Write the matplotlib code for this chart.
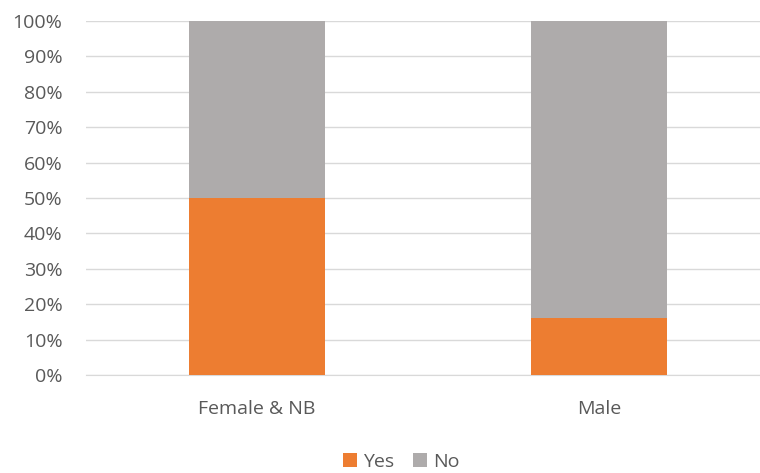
import matplotlib
matplotlib.use("Agg")
import matplotlib.pyplot as plt
import numpy as np

categories = ["Female & NB", "Male"]
yes_pct = [50, 16]
no_pct = [50, 84]
y_ticks = list(range(0, 101, 10))

plt.rcParams['font.family'] = ['Open Sans', 'DejaVu Sans']

fig = plt.figure(figsize=(7.6, 4.73), dpi=100)
# plot area runs slightly past the right edge of the canvas
ax = fig.add_axes([86/760, 1 - 375/473, 684/760, 354/473])

x = np.arange(len(categories))
w = 0.4
ax.bar(x, yes_pct, width=w, color="#ED7D31", label="Yes", zorder=3)
ax.bar(x, no_pct, bottom=yes_pct, width=w, color="#AEABAB", label="No", zorder=3)

ax.set_xlim(-0.5, 1.5)
ax.set_ylim(0, 100)
ax.set_yticks(y_ticks)
ax.set_yticklabels([f"{t}%" for t in y_ticks])
ax.set_xticks(x)
ax.set_xticklabels(categories)
ax.grid(axis="y", color="#D9D9D9", linewidth=1, zorder=0)
for s in ["top", "right", "left"]:
    ax.spines[s].set_visible(False)
ax.spines["bottom"].set_color("#D9D9D9")
ax.tick_params(axis="both", length=0, labelsize=14, colors="#595959")
ax.tick_params(axis="y", pad=17)
ax.tick_params(axis="x", pad=18)

fig.legend(loc="lower center", bbox_to_anchor=(0.528, -0.032), ncol=2, frameon=False,
           fontsize=14, handlelength=0.7, handleheight=0.7, handletextpad=0.3,
           columnspacing=1.0, labelcolor="#595959")

fig.savefig("out.png", dpi=100)
